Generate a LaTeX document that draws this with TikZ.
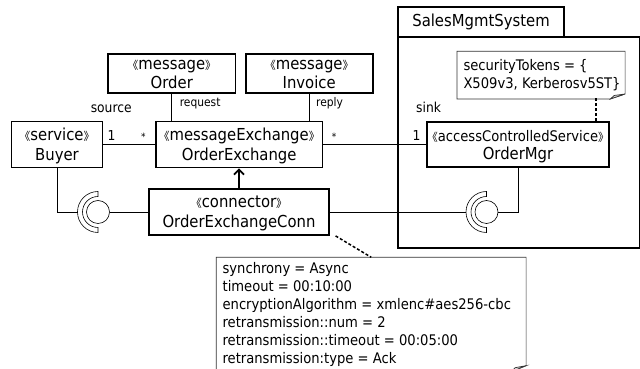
\documentclass[tikz,border=0pt]{standalone}
\usepackage{fontspec}
\setmainfont{DejaVu Sans Condensed}
\newfontfamily\cjk{Noto Sans CJK SC}
\usetikzlibrary{arrows.meta}

\newcommand{\stereo}[1]{\rule{0pt}{16pt}{\cjk\fontsize{11}{11}\selectfont《}#1{\cjk\fontsize{11}{11}\selectfont》}}
\newcommand{\elname}[1]{#1\rule[-4.5pt]{0pt}{4.5pt}}

\begin{document}
\begin{tikzpicture}[x=1pt,y=1pt]

      \useasboundingbox (0,0) rectangle (640,369);

      % subsystem frame
      \begin{scope}[every node/.style={draw, line width=1.8pt, inner sep=0pt, anchor=south west}]
        \node[minimum width=241.5pt, minimum height=211.6pt] (sys) at (397,119.7) {};
        \node[minimum width=166.3pt, minimum height=29.4pt, font=\fontsize{16.5}{20}\selectfont] (tab) at (397,331.3) {SalesMgmtSystem};
      \end{scope}

      \begin{scope}[every node/.style={draw, line width=1.8pt, inner sep=0pt, align=center, minimum height=46pt, font=\fontsize{16.5}{20}\selectfont}]
        \node[minimum width=91pt] (buyer) at (57,224.5) {\stereo{service}\\\elname{Buyer}};
        \node[minimum width=166.5pt] (oex) at (239.2,224.5) {\stereo{messageExchange}\\\elname{OrderExchange}};
        \node[minimum width=127.5pt, minimum height=38.7pt, font=\fontsize{16.5}{18.3}\selectfont] (order) at (171.8,295.7) {\stereo{message}\\\elname{Order}};
        \node[minimum width=127pt, minimum height=38.7pt, font=\fontsize{16.5}{18.3}\selectfont] (invoice) at (309.2,295.7) {\stereo{message}\\\elname{Invoice}};
        \node[minimum width=180pt] (conn) at (239,157) {\stereo{connector}\\\elname{OrderExchangeConn}};
        \node[minimum width=182pt, minimum height=45pt, font=\fontsize{16.5}{18}\selectfont] (mgr) at (518,224.5) {{\fontsize{14.6}{18}\selectfont\stereo{accessControlledService}}\\\elname{OrderMgr}};
      \end{scope}

      % notes
      \begin{scope}[every node/.style={inner sep=0pt}]
        \node[minimum width=167.7pt, minimum height=47.3pt, anchor=south west] (sec) at (457,270) {};
        \node[minimum width=309.4pt, minimum height=114pt, anchor=north west] (cmt) at (216.3,111.7) {};
      \end{scope}

      \begin{scope}[draw=black!80, line width=0.7pt]
        \draw (sec.north west) -- (sec.north east) -- ([yshift=5pt]sec.south east)
          -- ([xshift=-14.7pt]sec.south east) -- (sec.south west) -- cycle;
        \filldraw[fill=black!15] ([xshift=-14.7pt]sec.south east) -- ([xshift=-11pt,yshift=3.5pt]sec.south east)
          -- ([yshift=5pt]sec.south east) -- cycle;
        \draw (cmt.north west) -- (cmt.north east) -- ([yshift=6pt]cmt.south east)
          -- ([xshift=-15pt]cmt.south east) -- (cmt.south west) -- cycle;
        \filldraw[fill=black!15] ([xshift=-15pt]cmt.south east) -- ([xshift=-11pt,yshift=4pt]cmt.south east)
          -- ([yshift=6pt]cmt.south east) -- cycle;
      \end{scope}

      \begin{scope}[every node/.style={inner sep=0pt, anchor=north west, align=left, font=\fontsize{14.6}{18}\selectfont}]
        \node (sectext) at (463.3,310) {securityTokens = \{\\X509v3, Kerberosv5ST\}};
        \node (cmttext) at (222.4,106.8) {synchrony = Async\\timeout = 00:10:00\\encryptionAlgorithm = xmlenc\#aes256-cbc\\retransmission::num = 2\\retransmission::timeout = 00:05:00\\retransmission:type = Ack};
      \end{scope}

      % roles and multiplicities
      \begin{scope}[every node/.style={inner sep=0pt, font=\fontsize{13.7}{16}\selectfont}]
        \node[anchor=base] (src) at (111.2,256) {source};
        \node[anchor=base west] (snk) at (416,256) {sink};
        \node[anchor=base] (m1) at (111.5,228) {1};
        \node[anchor=base] (m2) at (416.5,228) {1};
        \node[font=\fontsize{10}{12}\selectfont] (m3) at (143.3,232) {*};
        \node[font=\fontsize{10}{12}\selectfont] (m4) at (334,232) {*};
        \node[anchor=base west, font=\fontsize{11.9}{14}\selectfont] (req) at (179.6,262.3) {request};
        \node[anchor=base west, font=\fontsize{11.9}{14}\selectfont] (rep) at (316,262.3) {reply};
      \end{scope}

      \begin{scope}[line width=0.8pt]
        \path (buyer) edge (oex);
        \path (oex) edge (mgr);
        \path (order.south) edge (order.south |- oex.north);
        \path (invoice.south) edge (invoice.south |- oex.north);
      \end{scope}

      % provided / required interfaces
      \begin{scope}[line width=0.6pt]
        \node[circle, draw, minimum size=23pt, inner sep=0pt] (lball) at (98,157) {};
        \node[circle, draw, minimum size=23pt, inner sep=0pt] (rball) at (486.5,157) {};
        \draw ([yshift=20.5pt]lball.center) arc (90:270:20.5) -- ++(0,5) arc (270:90:15.5) -- cycle;
        \draw ([yshift=20.5pt]rball.center) arc (90:270:20.5) -- ++(0,5) arc (270:90:15.5) -- cycle;
        \draw[line width=0.8pt] (buyer.south) |- ([xshift=-20.5pt]lball.center);
        \draw[line width=0.8pt] (conn) -- (lball);
        \draw[line width=0.8pt] (conn) -- ([xshift=-20.5pt]rball.center);
        \draw[line width=0.8pt] (mgr.south) |- (rball);
      \end{scope}

      \draw[line width=1.8pt, -{Straight Barb[length=5pt,width=10pt]}] (conn.north) -- (conn.north |- oex.south);

      \begin{scope}[line width=1.5pt, dash pattern=on 3pt off 2pt]
        \draw ([xshift=5.7pt]conn.south east) -- (cmt.north);
        \draw ([xshift=-14pt]mgr.north east) -- ++(0,23);
      \end{scope}

    \end{tikzpicture}
\end{document}
